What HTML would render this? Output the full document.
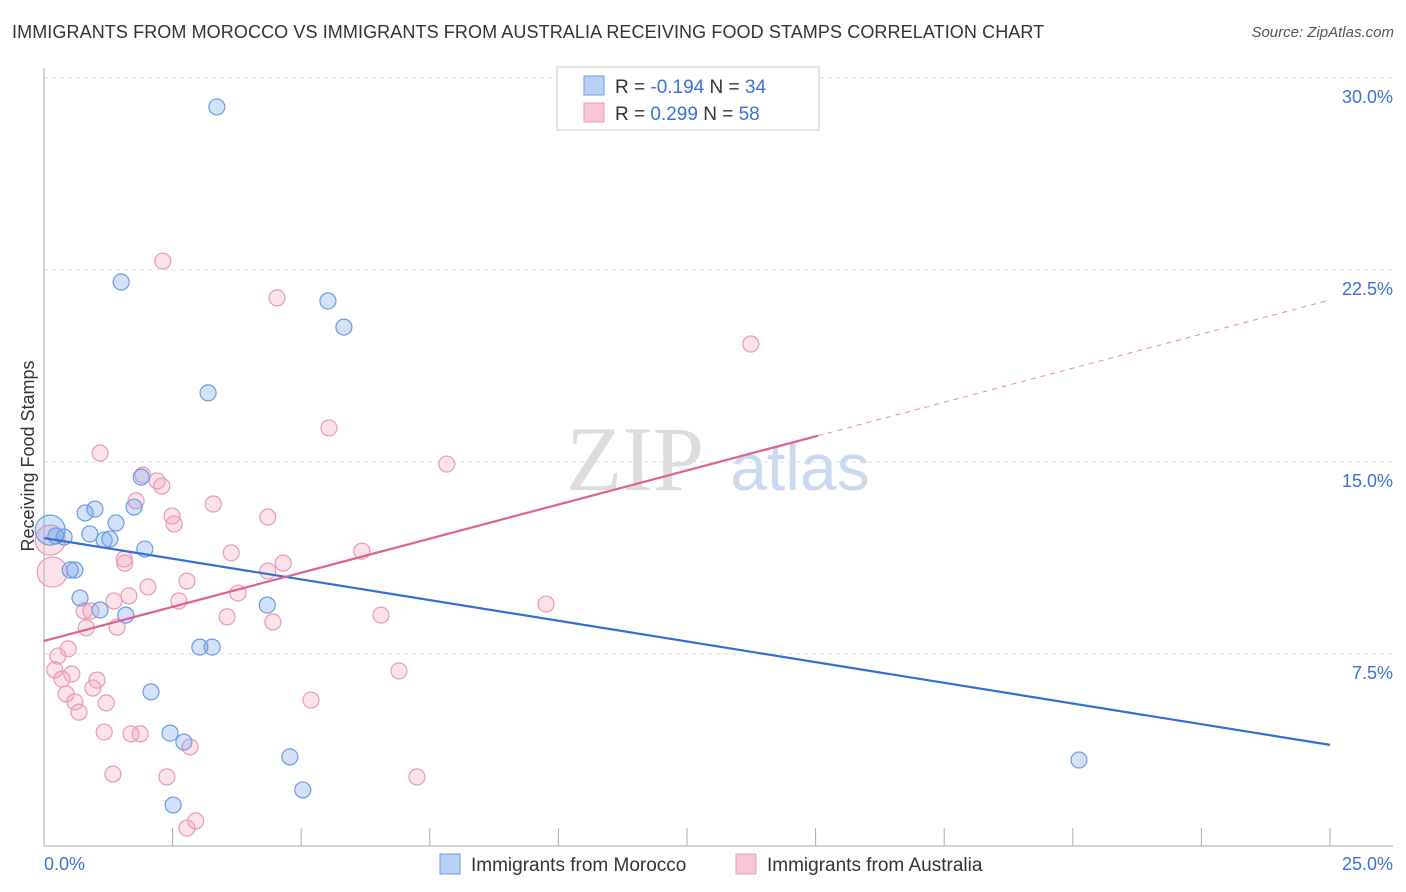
<!DOCTYPE html>
<html><head><meta charset="utf-8">
<style>
body{margin:0;background:#fff;font-family:"Liberation Sans",sans-serif;}
#wrap{position:relative;width:1406px;height:892px;overflow:hidden;}
.title{position:absolute;left:12px;top:22px;font-size:18px;color:#333;letter-spacing:0.1px}
.source{position:absolute;right:12px;top:24px;font-size:15px;color:#555;font-style:italic}
</style></head><body>
<div id="wrap">
<div class="title">IMMIGRANTS FROM MOROCCO VS IMMIGRANTS FROM AUSTRALIA RECEIVING FOOD STAMPS CORRELATION CHART</div>
<div class="source">Source: ZipAtlas.com</div>
<svg id="svg" width="1406" height="892" style="position:absolute;left:0;top:0">
<text x="635" y="490" font-size="92" font-family="Liberation Serif" fill="#ddd" text-anchor="middle">ZIP</text>
<text x="800" y="490" font-size="66" fill="#c9daf0" text-anchor="middle">atlas</text>
<text transform="translate(34,456) rotate(-90)" font-size="18" fill="#333" text-anchor="middle">Receiving Food Stamps</text>
<g id="grid"></g><g id="marks"></g>
<g>
<rect x="557" y="67" width="262" height="63" fill="#fff" stroke="#ccc"/>
<rect x="584" y="76" width="20" height="19" fill="#b8d0f5" stroke="#6c9be0"/>
<rect x="584" y="103" width="20" height="19" fill="#f9c6d6" stroke="#e89ab5"/>
<text x="615" y="93" font-size="19" fill="#333">R = <tspan fill="#3a72d8">-0.194</tspan>   N = <tspan fill="#3a72d8">34</tspan></text>
<text x="615" y="120" font-size="19" fill="#333">R =  <tspan fill="#3a72d8">0.299</tspan>   N = <tspan fill="#3a72d8">58</tspan></text>
</g>
<g>
<rect x="440" y="854" width="20" height="20" fill="#b8d0f5" stroke="#6c9be0"/>
<text x="471" y="871" font-size="19" fill="#333">Immigrants from Morocco</text>
<rect x="736" y="854" width="20" height="20" fill="#f9c6d6" stroke="#e89ab5"/>
<text x="767" y="871" font-size="19" fill="#333">Immigrants from Australia</text>
</g>
</svg>
</div>
<script>
const yTicks=[7.5,15,22.5,30];
const yTickLabels=["7.5%","15.0%","22.5%","30.0%"];
const xTickLabels=["0.0%","25.0%"];
const moroccoX=[3.36,1.50,5.52,5.83,3.19,1.89,0.99,0.80,1.75,1.40,0.89,0.23,0.39,1.17,1.28,1.96,0.51,0.60,0.70,1.09,1.59,4.34,3.03,3.27,2.08,2.45,2.72,4.78,2.51,5.03,20.12,0.12];
const moroccoY=[28.87,22.03,21.29,20.27,17.70,14.41,13.16,13.01,13.24,12.62,12.19,12.11,12.07,11.95,11.99,11.60,10.78,10.78,9.69,9.22,9.02,9.41,7.77,7.77,6.02,4.41,4.06,3.48,1.60,2.19,3.36,12.34];
const moroccoBig=[31];
const australiaX=[2.31,4.53,13.74,5.54,7.83,1.09,1.92,2.20,2.29,1.79,3.29,2.49,2.53,4.35,0.12,0.16,3.64,6.18,1.56,1.57,4.65,4.35,2.78,2.02,3.77,2.62,1.36,1.65,9.76,6.55,0.78,0.91,3.56,4.45,1.42,0.82,0.47,0.27,0.21,0.54,0.35,1.03,0.95,0.43,0.60,1.21,5.19,6.90,0.68,1.17,1.69,1.87,2.84,1.34,2.39,7.25,2.78,2.95];
const australiaY=[22.85,21.41,19.61,16.33,14.92,15.35,14.49,14.26,14.06,13.48,13.36,12.89,12.58,12.85,11.95,10.70,11.45,11.52,11.21,11.05,11.05,10.74,10.35,10.12,9.88,9.57,9.57,9.77,9.45,9.02,9.18,9.18,8.95,8.75,8.55,8.52,7.70,7.42,6.88,6.72,6.52,6.48,6.17,5.94,5.63,5.59,5.70,6.84,5.23,4.45,4.38,4.38,3.87,2.81,2.70,2.70,0.70,0.98];
const australiaBig=[14,15];
const moroccoTrend=[12.03,3.95];
const australiaTrend=[8.01,21.33];
const australiaSolidEnd=15.05;

const X=v=>44+v*51.44, Y=v=>846-v*25.6;
const NS="http://www.w3.org/2000/svg";
function mk(t,a,p){const e=document.createElementNS(NS,t);for(const k in a)e.setAttribute(k,a[k]);p.appendChild(e);return e;}
const grid=document.getElementById('grid'), marks=document.getElementById('marks');
yTicks.forEach((t,i)=>{
  const l=mk('line',{x1:44,x2:1393,y1:Y(t),y2:Y(t),stroke:'#ddd','stroke-dasharray':'4,4'},grid);
  
  
  const tx=mk('text',{x:1393,y:Y(t)+25,'font-size':18,fill:'#3a72d8','text-anchor':'end'},grid);
  tx.textContent=yTickLabels[i];
  
  
});
const ax=mk('line',{x1:44,x2:1393,y1:846,y2:846,stroke:'#aaa'},grid);


const ay=mk('line',{x1:44,x2:44,y1:68,y2:846,stroke:'#aaa'},grid);


for(let i=0;i<=10;i++){
  const t=mk('line',{x1:X(i*2.5),x2:X(i*2.5),y1:828,y2:846,stroke:'#aaa'},grid);
  
  
}
[[0,'start',44],[25,'end',1393]].forEach((d,i)=>{
  const tx=mk('text',{x:d[2],y:870,'font-size':18,fill:'#3a72d8','text-anchor':d[1]},grid);
  tx.textContent=xTickLabels[i];
  
  
});
function pts(xs,ys,big,fill,stroke,name){
  xs.forEach((x,i)=>{
    const c=mk('circle',{cx:X(x),cy:Y(ys[i]),r:big.includes(i)?15:8,fill:fill,stroke:stroke,'stroke-width':1.2},marks);
    
    
  });
}
pts(australiaX,australiaY,australiaBig,'rgba(245,160,190,0.3)','#e89ab5','australia-point');
pts(moroccoX,moroccoY,moroccoBig,'rgba(110,160,235,0.3)','#6c9be0','morocco-point');
const bl=mk('line',{x1:X(0),y1:Y(moroccoTrend[0]),x2:X(25),y2:Y(moroccoTrend[1]),stroke:'#2f6fd6','stroke-width':2.2},marks);


const ay2=australiaTrend[0]+(australiaTrend[1]-australiaTrend[0])*australiaSolidEnd/25;
const pl=mk('line',{x1:X(0),y1:Y(australiaTrend[0]),x2:X(australiaSolidEnd),y2:Y(ay2),stroke:'#e0608e','stroke-width':2.2},marks);


const pd=mk('line',{x1:X(australiaSolidEnd),y1:Y(ay2),x2:X(25),y2:Y(australiaTrend[1]),stroke:'#e88aaa','stroke-width':1,'stroke-dasharray':'5,5'},marks);


</script>
</body></html>
